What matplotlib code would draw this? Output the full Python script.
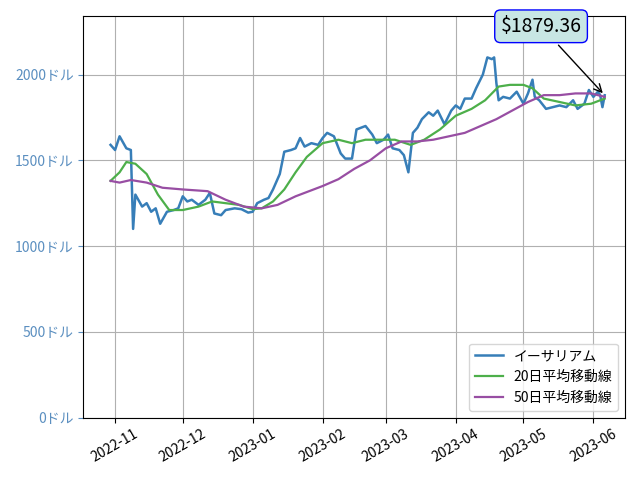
import matplotlib
matplotlib.use("Agg")
import matplotlib.pyplot as plt
import matplotlib.dates as mdates
import pandas as pd

plt.rcParams['font.family'] = ['Noto Sans CJK JP', 'DejaVu Sans']

price_dates = ["2022-10-30", "2022-11-01", "2022-11-03", "2022-11-06", "2022-11-08", "2022-11-09",
               "2022-11-10", "2022-11-13", "2022-11-15", "2022-11-17", "2022-11-19", "2022-11-21",
               "2022-11-24", "2022-11-27", "2022-11-29", "2022-12-01", "2022-12-03", "2022-12-05",
               "2022-12-08", "2022-12-11", "2022-12-13", "2022-12-15", "2022-12-18", "2022-12-20",
               "2022-12-24", "2022-12-27", "2022-12-30", "2023-01-01", "2023-01-03", "2023-01-06",
               "2023-01-08", "2023-01-10", "2023-01-13", "2023-01-15", "2023-01-18", "2023-01-20",
               "2023-01-22", "2023-01-24", "2023-01-27", "2023-01-30", "2023-02-01", "2023-02-03",
               "2023-02-06", "2023-02-09", "2023-02-11", "2023-02-14", "2023-02-16", "2023-02-18",
               "2023-02-20", "2023-02-23", "2023-02-25", "2023-02-28", "2023-03-02", "2023-03-04",
               "2023-03-07", "2023-03-09", "2023-03-11", "2023-03-13", "2023-03-15", "2023-03-17",
               "2023-03-20", "2023-03-22", "2023-03-24", "2023-03-27", "2023-03-30", "2023-04-01",
               "2023-04-03", "2023-04-05", "2023-04-08", "2023-04-10", "2023-04-13", "2023-04-15",
               "2023-04-17", "2023-04-18", "2023-04-19", "2023-04-20", "2023-04-22", "2023-04-25",
               "2023-04-28", "2023-05-01", "2023-05-03", "2023-05-05", "2023-05-06", "2023-05-08",
               "2023-05-11", "2023-05-14", "2023-05-17", "2023-05-20", "2023-05-23", "2023-05-25",
               "2023-05-28", "2023-05-30", "2023-06-01", "2023-06-03", "2023-06-04", "2023-06-05",
               "2023-06-06"]
price = [1590, 1560, 1640, 1570, 1560, 1100, 1300, 1230, 1250, 1200, 1220, 1130,
         1200, 1210, 1220, 1290, 1260, 1270, 1240, 1270, 1310, 1190, 1180, 1210,
         1220, 1215, 1195, 1200, 1250, 1270, 1280, 1330, 1420, 1550, 1560, 1570,
         1630, 1580, 1600, 1590, 1630, 1660, 1640, 1540, 1510, 1510, 1680, 1690,
         1700, 1650, 1600, 1620, 1650, 1570, 1560, 1530, 1430, 1660, 1690, 1740,
         1780, 1760, 1790, 1710, 1790, 1820, 1800, 1860, 1860, 1920, 2000, 2100,
         2090, 2100, 1950, 1850, 1870, 1860, 1900, 1830, 1890, 1970, 1870, 1850,
         1800, 1810, 1820, 1810, 1850, 1800, 1830, 1910, 1870, 1900, 1880, 1810,
         1879.36]

ma20_dates = ["2022-10-30", "2022-11-03", "2022-11-06", "2022-11-10", "2022-11-15", "2022-11-20",
              "2022-11-25", "2022-12-01", "2022-12-08", "2022-12-14", "2022-12-20", "2022-12-26",
              "2023-01-01", "2023-01-05", "2023-01-10", "2023-01-15", "2023-01-20", "2023-01-25",
              "2023-02-01", "2023-02-08", "2023-02-14", "2023-02-20", "2023-02-27", "2023-03-05",
              "2023-03-12", "2023-03-18", "2023-03-25", "2023-04-01", "2023-04-08", "2023-04-14",
              "2023-04-20", "2023-04-25", "2023-05-01", "2023-05-05", "2023-05-10", "2023-05-17",
              "2023-05-24", "2023-05-31", "2023-06-06"]
ma20 = [1380, 1430, 1490, 1480, 1420, 1300, 1210, 1210, 1230, 1260, 1250, 1240,
        1215, 1220, 1260, 1330, 1430, 1520, 1600, 1620, 1600, 1620, 1620, 1620,
        1590, 1620, 1680, 1760, 1800, 1850, 1930, 1940, 1940, 1920, 1860, 1840,
        1820, 1830, 1860]

ma50_dates = ["2022-10-30", "2022-11-03", "2022-11-08", "2022-11-15", "2022-11-22", "2022-12-01",
              "2022-12-12", "2022-12-20", "2022-12-28", "2023-01-05", "2023-01-12", "2023-01-20",
              "2023-02-01", "2023-02-08", "2023-02-15", "2023-02-22", "2023-03-01", "2023-03-08",
              "2023-03-15", "2023-03-22", "2023-03-29", "2023-04-05", "2023-04-12", "2023-04-19",
              "2023-04-26", "2023-05-03", "2023-05-10", "2023-05-17", "2023-05-24", "2023-05-31",
              "2023-06-06"]
ma50 = [1380, 1370, 1385, 1370, 1340, 1330, 1320, 1270, 1230, 1220, 1240, 1290,
        1350, 1390, 1450, 1500, 1570, 1610, 1610, 1620, 1640, 1660, 1700, 1740,
        1790, 1840, 1880, 1880, 1890, 1890, 1870]

px = pd.to_datetime(price_dates)
fig, ax = plt.subplots(figsize=(6.4, 4.8), dpi=100)
ax.plot(px, price, color='#377eb8', lw=1.8, label='イーサリアム')
ax.plot(pd.to_datetime(ma20_dates), ma20, color='#4daf4a', lw=1.6, label='20日平均移動線')
ax.plot(pd.to_datetime(ma50_dates), ma50, color='#984ea3', lw=1.6, label='50日平均移動線')

ax.set_ylim(0, 2340)
ax.set_xlim(pd.Timestamp("2022-10-18"), pd.Timestamp("2023-06-15"))
ax.xaxis.set_major_locator(mdates.MonthLocator())
ax.xaxis.set_major_formatter(mdates.DateFormatter('%Y-%m'))
ax.set_yticks([0, 500, 1000, 1500, 2000])
ax.set_yticklabels([f"{v}ドル" for v in [0, 500, 1000, 1500, 2000]])
plt.setp(ax.get_xticklabels(), rotation=30)
ax.tick_params(axis='y', colors='#5b8fc0')
ax.tick_params(axis='x', colors='black')
ax.grid(True, color='#b0b0b0')

ax.annotate(f"${price[-1]}", xy=(px[-1], price[-1]), xytext=(0.845, 0.975),
            textcoords='axes fraction', ha='center', va='center', fontsize=14,
            bbox=dict(boxstyle='round', fc='#c8e6e4', ec='blue'),
            arrowprops=dict(arrowstyle='->', color='black'))
ax.legend(loc='lower right')
fig.tight_layout()
fig.savefig("out.png")
